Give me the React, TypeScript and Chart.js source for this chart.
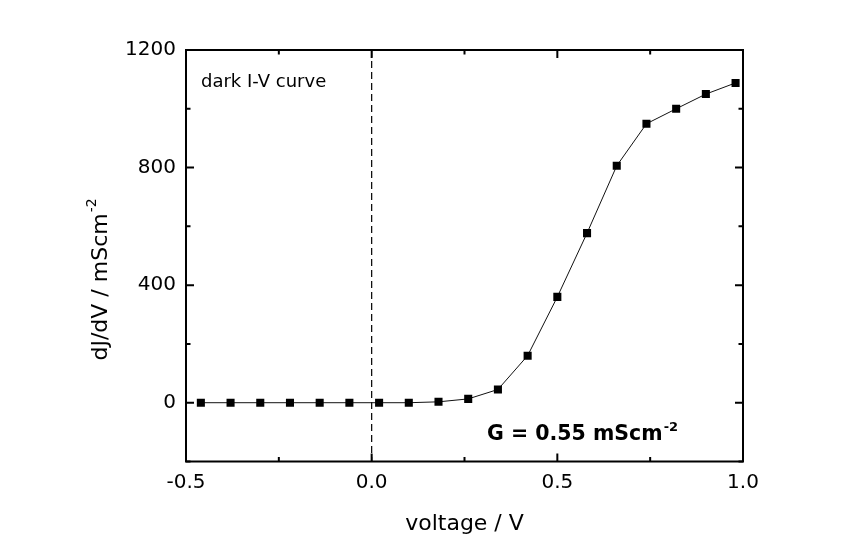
import React, { useEffect, useRef } from 'react';
import { Chart, registerables } from 'chart.js';

Chart.register(...registerables);

// ---- data ----
const voltage = [-0.46, -0.38, -0.30, -0.22, -0.14, -0.06, 0.02, 0.10, 0.18, 0.26, 0.34, 0.42, 0.50, 0.58, 0.66, 0.74, 0.82, 0.90, 0.98];
const conductance = [0, 0, 0, 0, 0, 0, 0, 0, 3, 13, 45, 160, 360, 577, 806, 949, 1000, 1050, 1088];
const xTickValues = [-0.5, 0.0, 0.5, 1.0];
const yTickValues = [0, 400, 800, 1200];
const xMinorStep = 0.25;
const yMinorStep = 200;
const xTitle = 'voltage / V';
const yTitleMain = 'dJ/dV / mScm';
const yTitleSup = '-2';
const curveLabel = 'dark I-V curve';
const gLabelMain = 'G = 0.55 mScm';
const gLabelSup = '-2';

const FONT = '"DejaVu Sans", "Liberation Sans", Arial, sans-serif';
const INK = '#000000';

const boxPlugin = {
  id: 'boxPlugin',
  beforeDatasetsDraw(chart: any) {
    const { ctx, chartArea, scales } = chart;
    const x0 = scales.x.getPixelForValue(0);
    ctx.save();
    ctx.strokeStyle = INK;
    ctx.lineWidth = 1.2;
    ctx.setLineDash([7, 4]);
    ctx.beginPath();
    ctx.moveTo(x0, chartArea.top);
    ctx.lineTo(x0, chartArea.bottom);
    ctx.stroke();
    ctx.restore();
  },
  afterDatasetsDraw(chart: any) {
    const { ctx, chartArea, scales } = chart;
    const { left, right, top, bottom } = chartArea;
    const xs = scales.x;
    const ys = scales.y;
    ctx.save();
    ctx.strokeStyle = INK;
    ctx.lineWidth = 2;
    ctx.setLineDash([]);
    ctx.strokeRect(left, top, right - left, bottom - top);
    const majorLen = 8;
    const minorLen = 4.5;
    const isMajor = (v: number, list: number[]) => list.some((t) => Math.abs(t - v) < 1e-6);
    ctx.lineWidth = 2;
    ctx.beginPath();
    for (let i = 0; ; i++) {
      const v = xs.min + i * xMinorStep;
      if (v > xs.max + 1e-9) break;
      const p = xs.getPixelForValue(v);
      const len = isMajor(v, xTickValues) ? majorLen : minorLen;
      ctx.moveTo(p, bottom);
      ctx.lineTo(p, bottom - len);
      ctx.moveTo(p, top);
      ctx.lineTo(p, top + len);
    }
    for (let i = 0; ; i++) {
      const v = ys.min + i * yMinorStep;
      if (v > ys.max + 1e-9) break;
      const p = ys.getPixelForValue(v);
      const len = isMajor(v, yTickValues) ? majorLen : minorLen;
      ctx.moveTo(left, p);
      ctx.lineTo(left + len, p);
      ctx.moveTo(right, p);
      ctx.lineTo(right - len, p);
    }
    ctx.stroke();
    ctx.restore();
  },
  afterDraw(chart: any) {
    const { ctx, chartArea } = chart;
    const { left, right, top, bottom } = chartArea;
    ctx.save();
    ctx.fillStyle = INK;
    ctx.textBaseline = 'alphabetic';

    // x title
    ctx.font = `22px ${FONT}`;
    ctx.textAlign = 'center';
    ctx.fillText(xTitle, (left + right) / 2, bottom + 68.5);

    // y title (rotated)
    ctx.save();
    ctx.translate(left - 79, bottom - 101);
    ctx.rotate(-Math.PI / 2);
    ctx.textAlign = 'left';
    ctx.font = `22px ${FONT}`;
    ctx.fillText(yTitleMain, 0, 0);
    const wMain = ctx.measureText(yTitleMain).width;
    ctx.font = `14px ${FONT}`;
    ctx.fillText(yTitleSup, wMain + 1, -11);
    ctx.restore();

    // curve label
    ctx.textAlign = 'left';
    ctx.font = `18px ${FONT}`;
    ctx.fillText(curveLabel, left + 15, top + 36.5);

    // G label
    ctx.font = `bold 20.5px ${FONT}`;
    const gx = left + 301;
    const gy = bottom - 21.5;
    ctx.fillText(gLabelMain, gx, gy);
    const wg = ctx.measureText(gLabelMain).width;
    ctx.font = `bold 13px ${FONT}`;
    ctx.fillText(gLabelSup, gx + wg + 1, gy - 9);
    ctx.restore();
  },
};

export default function App() {
  const canvasRef = useRef<HTMLCanvasElement | null>(null);

  useEffect(() => {
    const canvas = canvasRef.current;
    if (!canvas) return;
    const chart = new Chart(canvas, {
      type: 'line',
      data: {
        datasets: [
          {
            data: voltage.map((v, i) => ({ x: v, y: conductance[i] })),
            borderColor: '#111111',
            borderWidth: 1,
            pointStyle: 'rect',
            pointRadius: 5.7,
            pointBackgroundColor: '#000',
            pointBorderColor: '#000',
            pointBorderWidth: 0,
            tension: 0,
            fill: false,
          },
        ],
      },
      options: {
        animation: false,
        responsive: false,
        devicePixelRatio: 1,
        events: [],
        layout: { padding: { left: 0, top: 50, right: 105, bottom: 0 } },
        plugins: {
          legend: { display: false },
          tooltip: { enabled: false },
          title: { display: false },
        },
        scales: {
          x: {
            type: 'linear',
            min: -0.5,
            max: 1.0,
            grid: { display: false, drawTicks: false },
            border: { display: false },
            ticks: {
              color: INK,
              font: { family: FONT, size: 20, lineHeight: 1 },
              padding: 11,
              maxRotation: 0,
              autoSkip: false,
              callback: (v: any) => Number(v).toFixed(1),
            },
            afterBuildTicks: (s: any) => {
              s.ticks = xTickValues.map((v) => ({ value: v }));
            },
            afterFit: (s: any) => {
              s.height = 90.5;
            },
          },
          y: {
            type: 'linear',
            min: -200,
            max: 1200,
            grid: { display: false, drawTicks: false },
            border: { display: false },
            ticks: {
              color: INK,
              font: { family: FONT, size: 20, lineHeight: 1 },
              padding: 10,
              autoSkip: false,
              callback: (v: any) => String(v),
            },
            afterBuildTicks: (s: any) => {
              s.ticks = yTickValues.map((v) => ({ value: v }));
            },
            afterFit: (s: any) => {
              s.width = 186;
            },
          },
        },
      },
      plugins: [boxPlugin],
    } as any);
    return () => chart.destroy();
  }, []);

  return (
    <div style={{ position: 'absolute', left: 0, top: 0, width: 848, height: 552, background: '#fff' }}>
      <canvas ref={canvasRef} width={848} height={552} style={{ display: 'block', width: 848, height: 552 }} />
    </div>
  );
}
